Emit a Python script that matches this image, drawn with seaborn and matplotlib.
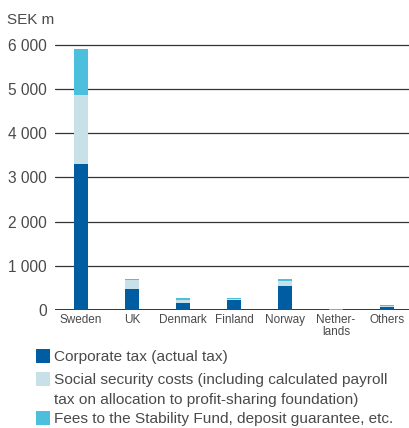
import matplotlib
matplotlib.use("Agg")
import matplotlib.pyplot as plt
from matplotlib.patches import Rectangle
import numpy as np
import pandas as pd
import seaborn as sns

countries = ["Sweden", "UK", "Denmark", "Finland", "Norway", "Nether-\nlands", "Others"]
corporate_tax = [3300, 480, 165, 235, 550, 5, 75]
social_security = [1570, 195, 55, 20, 100, 5, 20]
stability_fees = [1040, 30, 50, 15, 55, 15, 25]

legend_labels = [
    "Corporate tax (actual tax)",
    "Social security costs (including calculated payroll",
    "tax on allocation to profit-sharing foundation)",
    "Fees to the Stability Fund, deposit guarantee, etc.",
]
yticks = [0, 1000, 2000, 3000, 4000, 5000, 6000]
ytick_labels = ["0", "1 000", "2 000", "3 000", "4 000", "5 000", "6 000"]

c_dark = "#005da2"
c_light = "#c8e1e9"
c_cyan = "#4cbfdd"
txt = "#4a4a4a"

sns.set_style("white")
plt.rcParams["font.family"] = ["Liberation Sans", "DejaVu Sans"]

df = pd.DataFrame({"country": countries,
                   "corp": corporate_tax,
                   "social": social_security,
                   "fees": stability_fees})
df["lvl2"] = df["corp"] + df["social"]
df["lvl3"] = df["lvl2"] + df["fees"]

W, H = 409, 428
fig = plt.figure(figsize=(W / 100, H / 100), dpi=100)
ymax = 6050
top_px = 310 - ymax / 1000 * 44.17
ax = fig.add_axes([55 / W, (H - 310) / H, (W - 55) / W, (310 - top_px) / H])

# stacked look: draw cumulative totals, largest first
for col, c in [("lvl3", c_cyan), ("lvl2", c_light), ("corp", c_dark)]:
    sns.barplot(data=df, x="country", y=col, color=c, width=0.27,
                saturation=1, linewidth=0, ax=ax, zorder=3)

ax.set_ylim(0, ymax)
ax.set_xlim(-0.51, 6.43)
ax.set_yticks(yticks)
ax.set_yticklabels(ytick_labels)
ax.set_xlabel("")
ax.set_ylabel("")
for s in ax.spines.values():
    s.set_visible(False)
for v in yticks[1:]:
    ax.axhline(v, color="#333333", lw=0.9, zorder=1)
ax.axhline(0, color="#333333", lw=1.4, zorder=2)
ax.tick_params(axis="y", length=0, labelsize=11.2, labelcolor=txt, pad=6)
ax.tick_params(axis="x", length=0, labelsize=8.5, labelcolor=txt, pad=3)
for lab in ax.get_xticklabels():
    lab.set_linespacing(0.95)
    lab.set_verticalalignment("top")

fig.text(7 / W, 1 - 20 / H, "SEK m", fontsize=11, color=txt, va="center", ha="left")

# legend
boxes = [(349, c_dark), (372, c_light), (411, c_cyan)]
for top, c in boxes:
    fig.patches.append(Rectangle((36 / W, 1 - (top + 14) / H), 14 / W, 14 / H,
                                 transform=fig.transFigure, facecolor=c,
                                 edgecolor="none"))
for yc, lab in zip([357, 380, 400, 419], legend_labels):
    fig.text(54 / W, 1 - yc / H, lab, fontsize=11.1, color=txt, va="center", ha="left")

fig.savefig("out.png", dpi=100)
